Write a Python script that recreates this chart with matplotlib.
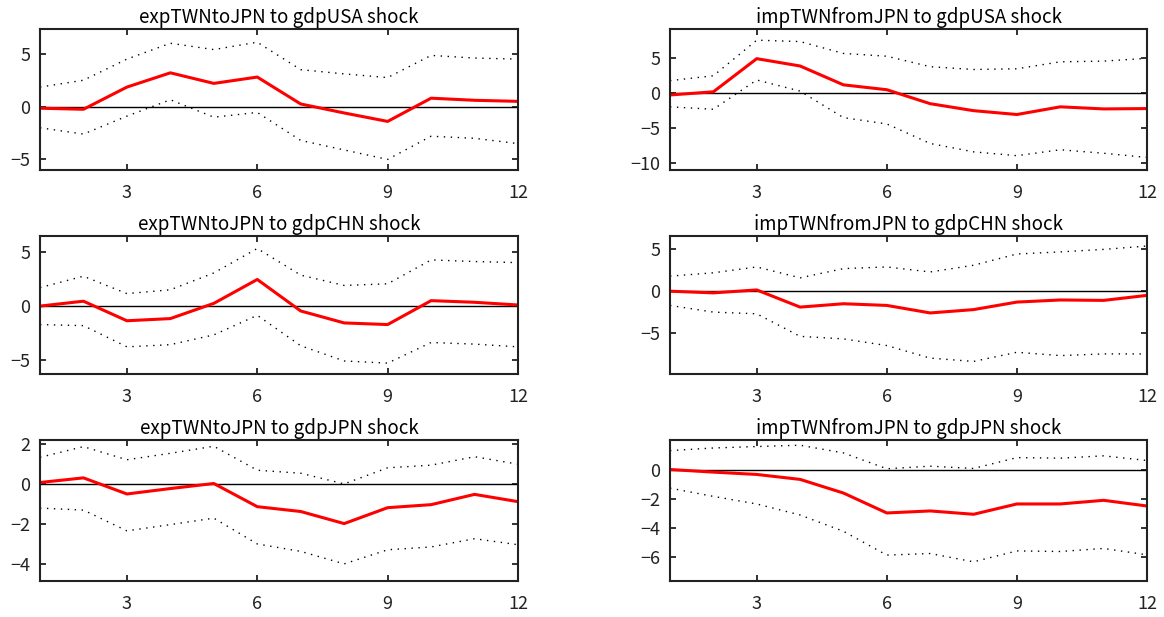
import numpy as np
import matplotlib
matplotlib.use("Agg")
import matplotlib.pyplot as plt

plt.rcParams['font.family'] = ['Noto Sans CJK JP', 'DejaVu Sans']

horizon = np.arange(1, 13)

titles = [
    "expTWNtoJPN to gdpUSA shock", "impTWNfromJPN to gdpUSA shock",
    "expTWNtoJPN to gdpCHN shock", "impTWNfromJPN to gdpCHN shock",
    "expTWNtoJPN to gdpJPN shock", "impTWNfromJPN to gdpJPN shock",
]

# impulse responses (red) and error bands (dotted)
irf_exp_usa = [-0.15, -0.25, 1.85, 3.2, 2.2, 2.8, 0.25, -0.6, -1.4, 0.8, 0.6, 0.5]
up_exp_usa = [1.85, 2.5, 4.5, 6.0, 5.4, 6.1, 3.5, 3.1, 2.75, 4.85, 4.6, 4.5]
lo_exp_usa = [-2.0, -2.6, -0.9, 0.65, -1.0, -0.55, -3.2, -4.1, -5.0, -2.8, -3.0, -3.5]

irf_imp_usa = [-0.25, 0.2, 4.95, 3.9, 1.2, 0.5, -1.5, -2.5, -3.05, -1.95, -2.25, -2.2]
up_imp_usa = [1.8, 2.5, 7.6, 7.4, 5.7, 5.3, 3.8, 3.4, 3.5, 4.5, 4.6, 5.0]
lo_imp_usa = [-1.95, -2.3, 1.9, 0.3, -3.5, -4.4, -7.2, -8.4, -8.95, -8.1, -8.6, -9.2]

irf_exp_chn = [0.0, 0.45, -1.35, -1.15, 0.25, 2.45, -0.45, -1.55, -1.7, 0.5, 0.35, 0.1]
up_exp_chn = [1.7, 2.75, 1.15, 1.5, 3.05, 5.3, 2.85, 1.9, 2.05, 4.25, 4.1, 4.0]
lo_exp_chn = [-1.7, -1.8, -3.75, -3.55, -2.65, -0.85, -3.65, -5.05, -5.25, -3.35, -3.5, -3.75]

irf_imp_chn = [0.0, -0.2, 0.15, -1.9, -1.5, -1.7, -2.6, -2.2, -1.3, -1.05, -1.1, -0.5]
up_imp_chn = [1.8, 2.2, 2.9, 1.6, 2.7, 2.9, 2.3, 3.1, 4.45, 4.7, 5.0, 5.4]
lo_imp_chn = [-1.7, -2.5, -2.7, -5.4, -5.7, -6.5, -8.0, -8.4, -7.3, -7.7, -7.5, -7.5]

irf_exp_jpn = [0.07, 0.3, -0.5, -0.23, 0.02, -1.13, -1.37, -1.97, -1.18, -1.03, -0.52, -0.88]
up_exp_jpn = [1.32, 1.85, 1.2, 1.52, 1.87, 0.68, 0.53, 0.0, 0.8, 0.93, 1.35, 0.98]
lo_exp_jpn = [-1.2, -1.3, -2.33, -2.02, -1.7, -2.98, -3.35, -3.97, -3.27, -3.13, -2.72, -3.02]

irf_imp_jpn = [0.0, -0.18, -0.34, -0.68, -1.62, -2.99, -2.85, -3.08, -2.37, -2.37, -2.12, -2.51]
up_imp_jpn = [1.3, 1.48, 1.58, 1.67, 1.14, 0.05, 0.23, 0.07, 0.82, 0.78, 0.94, 0.62]
lo_imp_jpn = [-1.28, -1.85, -2.37, -3.13, -4.25, -5.89, -5.78, -6.35, -5.6, -5.64, -5.43, -5.87]

panels = [
    (irf_exp_usa, up_exp_usa, lo_exp_usa, (-6.0, 7.35), [-5, 0, 5]),
    (irf_imp_usa, up_imp_usa, lo_imp_usa, (-11.0, 9.2), [-10, -5, 0, 5]),
    (irf_exp_chn, up_exp_chn, lo_exp_chn, (-6.25, 6.45), [-5, 0, 5]),
    (irf_imp_chn, up_imp_chn, lo_imp_chn, (-9.9, 6.6), [-5, 0, 5]),
    (irf_exp_jpn, up_exp_jpn, lo_exp_jpn, (-4.82, 2.18), [-4, -2, 0, 2]),
    (irf_imp_jpn, up_imp_jpn, lo_imp_jpn, (-7.67, 2.03), [-6, -4, -2, 0]),
]

W, H = 1164, 617
col_x = [(40, 518), (670, 1147)]
row_y = [(29, 170), (236, 374), (440, 581)]

fig = plt.figure(figsize=(W / 100, H / 100), dpi=100)

for i, (irf, up, lo, ylim, yticks) in enumerate(panels):
    r, c = divmod(i, 2)
    x0, x1 = col_x[c]
    y0, y1 = row_y[r]
    ax = fig.add_axes([x0 / W, 1 - y1 / H, (x1 - x0) / W, (y1 - y0) / H])
    ax.axhline(0, color='black', lw=1.0)
    ax.plot(horizon, up, color='black', lw=1.0, ls=(0, (1, 4)))
    ax.plot(horizon, lo, color='black', lw=1.0, ls=(0, (1, 4)))
    ax.plot(horizon, irf, color='red', lw=2.2)
    ax.set_xlim(1, 12)
    ax.set_ylim(*ylim)
    ax.set_xticks([3, 6, 9, 12])
    ax.set_yticks(yticks)
    ax.set_yticklabels([str(t).replace('-', '\u2212') for t in yticks])
    ax.tick_params(direction='in', length=4.5, width=1.3, top=True, right=True,
                   labelsize=13, colors='#222222')
    ax.tick_params(axis='x', pad=10)
    ax.tick_params(axis='y', pad=7)
    for s in ax.spines.values():
        s.set_linewidth(1.5)
        s.set_color('#222222')
    ax.set_title(titles[i], fontsize=13.5, pad=4)

fig.savefig("out.png", dpi=100)
